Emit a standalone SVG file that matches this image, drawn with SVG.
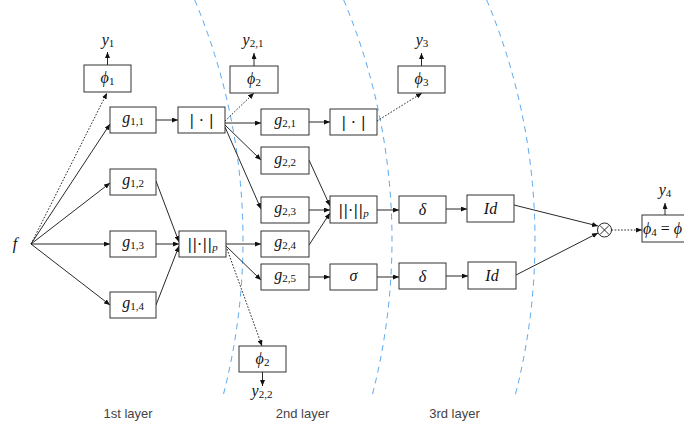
<svg xmlns="http://www.w3.org/2000/svg" width="684" height="430" viewBox="0 0 684 430">
<defs>
<marker id="ah" markerUnits="userSpaceOnUse" markerWidth="6" markerHeight="5" refX="6" refY="2.5" orient="auto">
<path d="M0,0 L6,2.5 L0,5 z" fill="#111"/>
</marker>
<style>
.box{fill:#fff;stroke:#333;stroke-width:1}
.e{fill:none;stroke:#111;stroke-width:0.9;marker-end:url(#ah)}
.d{stroke-dasharray:1.6 1.6}
.arc{fill:none;stroke:#5aa8f0;stroke-width:1;stroke-dasharray:6 5}
.m{font-family:"Liberation Serif","DejaVu Serif",serif;font-style:italic;font-size:16px;fill:#111}
.r{font-style:normal}
.b{font-family:"DejaVu Serif",serif;font-style:normal;font-size:15px;fill:#111}
.s{font-size:11px;font-style:normal}
.si{font-family:"Liberation Serif",serif;font-size:11px;font-style:italic}
.lay{font-family:"Liberation Sans",Arial,sans-serif;font-size:13px;fill:#444}
</style>
</defs>
<g id="layers">
<path class="arc" d="M194.7,0 A620,620 0 0,1 222.5,398"/>
<path class="arc" d="M343.7,0 A620,620 0 0,1 371.5,398"/>
<path class="arc" d="M486.7,0 A620,620 0 0,1 514.5,398"/>
<text class="lay" x="128" y="418" text-anchor="middle">1st layer</text>
<text class="lay" x="302.5" y="418" text-anchor="middle">2nd layer</text>
<text class="lay" x="454.5" y="418" text-anchor="middle">3rd layer</text>
</g>
<g id="connectors">
<path class="e d" d="M31,244 L107,93"/>
<path class="e" d="M31,244 L110,124"/>
<path class="e" d="M31,244 L110,183"/>
<path class="e" d="M31,244 L110,244"/>
<path class="e" d="M31,244 L110,305"/>
<path class="e" d="M107.5,65 L107.5,52"/>
<path class="e" d="M156,120 L178,120"/>
<path class="e" d="M156,181 L179,242"/>
<path class="e" d="M156,244 L179,244"/>
<path class="e" d="M156,305 L179,246"/>
<path class="e d" d="M225,121 L254,93"/>
<path class="e" d="M225,123 L261,123"/>
<path class="e" d="M225,125 L261,160"/>
<path class="e" d="M225,127 L261,209"/>
<path class="e" d="M254,66 L254,53"/>
<path class="e" d="M226,244 L261,244"/>
<path class="e" d="M226,246 L261,280"/>
<path class="e d" d="M227,249 L262,346"/>
<path class="e" d="M262.5,372 L262.5,386"/>
<path class="e" d="M309,122 L330,122"/>
<path class="e d" d="M377,121 L422,93"/>
<path class="e" d="M421.5,66 L421.5,53"/>
<path class="e" d="M309,160 L330,206"/>
<path class="e" d="M309,210 L330,210"/>
<path class="e" d="M309,245 L330,213"/>
<path class="e" d="M377,210 L399,210"/>
<path class="e" d="M309,277 L330,277"/>
<path class="e" d="M377,277 L399,277"/>
<path class="e" d="M446,209 L467,209"/>
<path class="e" d="M446,276 L468,276"/>
<path class="e" d="M514,205 L598,226"/>
<path class="e" d="M516,275 L598,233"/>
<path class="e d" d="M611.5,230 L642,230"/>
<path class="e" d="M665,215 L665,203"/>
</g>
<g id="f"><text class="m" x="15" y="249" text-anchor="middle">f</text></g>
<g id="y1"><text class="m" x="108" y="45" text-anchor="middle">y<tspan class="s" dy="2">1</tspan></text></g>
<g id="y21"><text class="m" x="253" y="45" text-anchor="middle">y<tspan class="s" dy="2">2,1</tspan></text></g>
<g id="y3"><text class="m" x="422" y="45" text-anchor="middle">y<tspan class="s" dy="2">3</tspan></text></g>
<g id="y22"><text class="m" x="262" y="396" text-anchor="middle">y<tspan class="s" dy="2">2,2</tspan></text></g>
<g id="y4"><text class="m" x="665" y="195" text-anchor="middle">y<tspan class="s" dy="2">4</tspan></text></g>
<g id="phi1"><rect class="box" x="84" y="65" width="47" height="27"/><text class="m" x="107.5" y="83" text-anchor="middle">ϕ<tspan class="s" dy="2">1</tspan></text></g>
<g id="g11"><rect class="box" x="110" y="107" width="46" height="26"/><text class="m" x="133" y="123" text-anchor="middle">g<tspan class="s" dy="2">1,1</tspan></text></g>
<g id="abs1"><rect class="box" x="178" y="107" width="47" height="26"/><text class="b" x="201.5" y="125" text-anchor="middle">| · |</text></g>
<g id="g12"><rect class="box" x="110" y="169" width="46" height="26"/><text class="m" x="133" y="185" text-anchor="middle">g<tspan class="s" dy="2">1,2</tspan></text></g>
<g id="g13"><rect class="box" x="110" y="231" width="46" height="26"/><text class="m" x="133" y="247" text-anchor="middle">g<tspan class="s" dy="2">1,3</tspan></text></g>
<g id="g14"><rect class="box" x="110" y="292" width="46" height="26"/><text class="m" x="133" y="308" text-anchor="middle">g<tspan class="s" dy="2">1,4</tspan></text></g>
<g id="norm1"><rect class="box" x="179" y="231" width="47" height="26"/><text class="b" x="202.5" y="249" text-anchor="middle">||·||<tspan class="si" dy="2">p</tspan></text></g>
<g id="phi2a"><rect class="box" x="230" y="66" width="48" height="27"/><text class="m" x="254" y="84" text-anchor="middle">ϕ<tspan class="s" dy="2">2</tspan></text></g>
<g id="g21"><rect class="box" x="261" y="109" width="48" height="26"/><text class="m" x="285" y="125" text-anchor="middle">g<tspan class="s" dy="2">2,1</tspan></text></g>
<g id="abs2"><rect class="box" x="330" y="109" width="47" height="26"/><text class="b" x="353.5" y="127" text-anchor="middle">| · |</text></g>
<g id="g22"><rect class="box" x="261" y="147" width="48" height="27"/><text class="m" x="285" y="164" text-anchor="middle">g<tspan class="s" dy="2">2,2</tspan></text></g>
<g id="g23"><rect class="box" x="261" y="197" width="48" height="26"/><text class="m" x="285" y="213" text-anchor="middle">g<tspan class="s" dy="2">2,3</tspan></text></g>
<g id="g24"><rect class="box" x="261" y="231" width="48" height="26"/><text class="m" x="285" y="247" text-anchor="middle">g<tspan class="s" dy="2">2,4</tspan></text></g>
<g id="g25"><rect class="box" x="261" y="264" width="48" height="26"/><text class="m" x="285" y="280" text-anchor="middle">g<tspan class="s" dy="2">2,5</tspan></text></g>
<g id="norm2"><rect class="box" x="330" y="196" width="47" height="27"/><text class="b" x="353.5" y="214.5" text-anchor="middle">||·||<tspan class="si" dy="2">p</tspan></text></g>
<g id="sigma"><rect class="box" x="330" y="264" width="47" height="26"/><text class="m" x="353.5" y="281" text-anchor="middle">σ</text></g>
<g id="phi3"><rect class="box" x="398" y="66" width="47" height="27"/><text class="m" x="421.5" y="84" text-anchor="middle">ϕ<tspan class="s" dy="2">3</tspan></text></g>
<g id="phi2b"><rect class="box" x="239" y="346" width="47" height="26"/><text class="m" x="262.5" y="364" text-anchor="middle">ϕ<tspan class="s" dy="2">2</tspan></text></g>
<g id="delta1"><rect class="box" x="399" y="196" width="47" height="27"/><text class="m" x="422.5" y="215" text-anchor="middle">δ</text></g>
<g id="delta2"><rect class="box" x="399" y="263" width="47" height="26"/><text class="m" x="422.5" y="281.5" text-anchor="middle">δ</text></g>
<g id="id1"><rect class="box" x="467" y="195" width="47" height="27"/><text class="m" x="490.5" y="214" text-anchor="middle">Id</text></g>
<g id="id2"><rect class="box" x="468" y="262" width="48" height="27"/><text class="m" x="492" y="281" text-anchor="middle">Id</text></g>
<g id="otimes"><circle cx="604.5" cy="230" r="7" fill="#fff" stroke="#111" stroke-width="0.9"/><path d="M600,225.5 L609,234.5 M609,225.5 L600,234.5" stroke="#111" stroke-width="0.9"/></g>
<g id="phi4"><rect class="box" x="642" y="215" width="70" height="27"/><text class="m" x="643" y="234">ϕ<tspan class="s" dy="2">4</tspan><tspan class="r" dy="-2"> = </tspan>ϕ</text></g>
</svg>
